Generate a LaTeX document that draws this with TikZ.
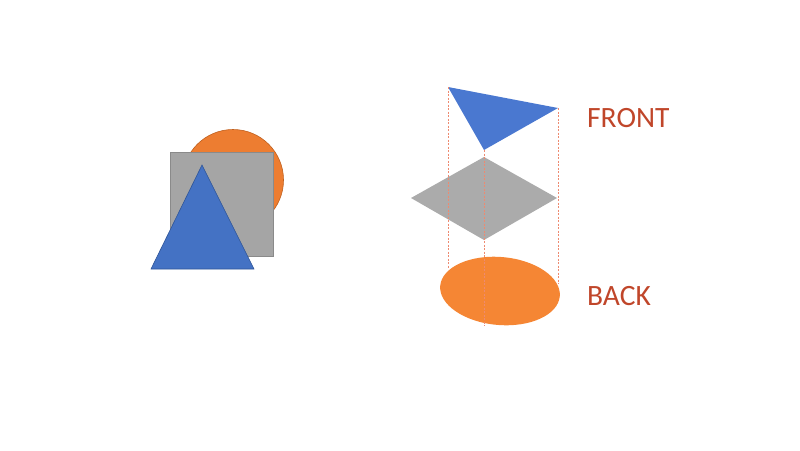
\documentclass[tikz,border=0pt]{standalone}
\usepackage{fontspec}
\setmainfont{Carlito}
\definecolor{orgL}{HTML}{ED7D31}
\definecolor{orgLd}{HTML}{C0601E}
\definecolor{orgR}{HTML}{F58634}
\definecolor{blueL}{HTML}{4472C4}
\definecolor{blueLd}{HTML}{2F5597}
\definecolor{blueR}{HTML}{4A78D0}
\definecolor{grayL}{HTML}{A5A5A5}
\definecolor{grayLd}{HTML}{8A8A8A}
\definecolor{grayR}{HTML}{ABABAB}
\definecolor{lbl}{HTML}{C0462A}
\definecolor{guide}{HTML}{EE8A70}
\tikzset{
  guideline/.style={draw=guide, dashed, dash pattern=on 2pt off 1.5pt, line width=0.6pt},
  lbltext/.style={text=lbl, font=\fontsize{29.5}{31}\selectfont, anchor=west, inner sep=0pt}
}
\begin{document}
\begin{tikzpicture}[x=1pt,y=-1pt]
\useasboundingbox (0,0) rectangle (800,450);
% left stack
\fill[orgL, draw=orgLd, line width=0.6pt] (233,180) circle (50.5);
\fill[grayL, draw=grayLd, line width=0.6pt] (170,152) rectangle (273,256);
\fill[blueL, draw=blueLd, line width=0.6pt] (202,165) -- (254,269) -- (151,269) -- cycle;
% right exploded
\fill[orgR, rotate around={-5:(500,291)}] (500,291) ellipse (60 and 34);
\fill[grayR] (411,198) -- (484,157) -- (557,198) -- (484,240) -- cycle;
\fill[blueR] (448,87) -- (558,108) -- (484,150) -- cycle;
\coordinate (t1) at (448,87);
\coordinate (t2) at (558,108);
\coordinate (t3) at (484,150);
\coordinate (b1) at (448,268);
\coordinate (b2) at (558,284);
\coordinate (b3) at (484,326);
\draw[guideline] (t1) -- (b1);
\draw[guideline] (t2) -- (b2);
\draw[guideline] (t3) -- (b3);
\node[lbltext] (front) at (587,118) {FRONT};
\node[lbltext] (back) at (587,296) {BACK};
\end{tikzpicture}
\end{document}
